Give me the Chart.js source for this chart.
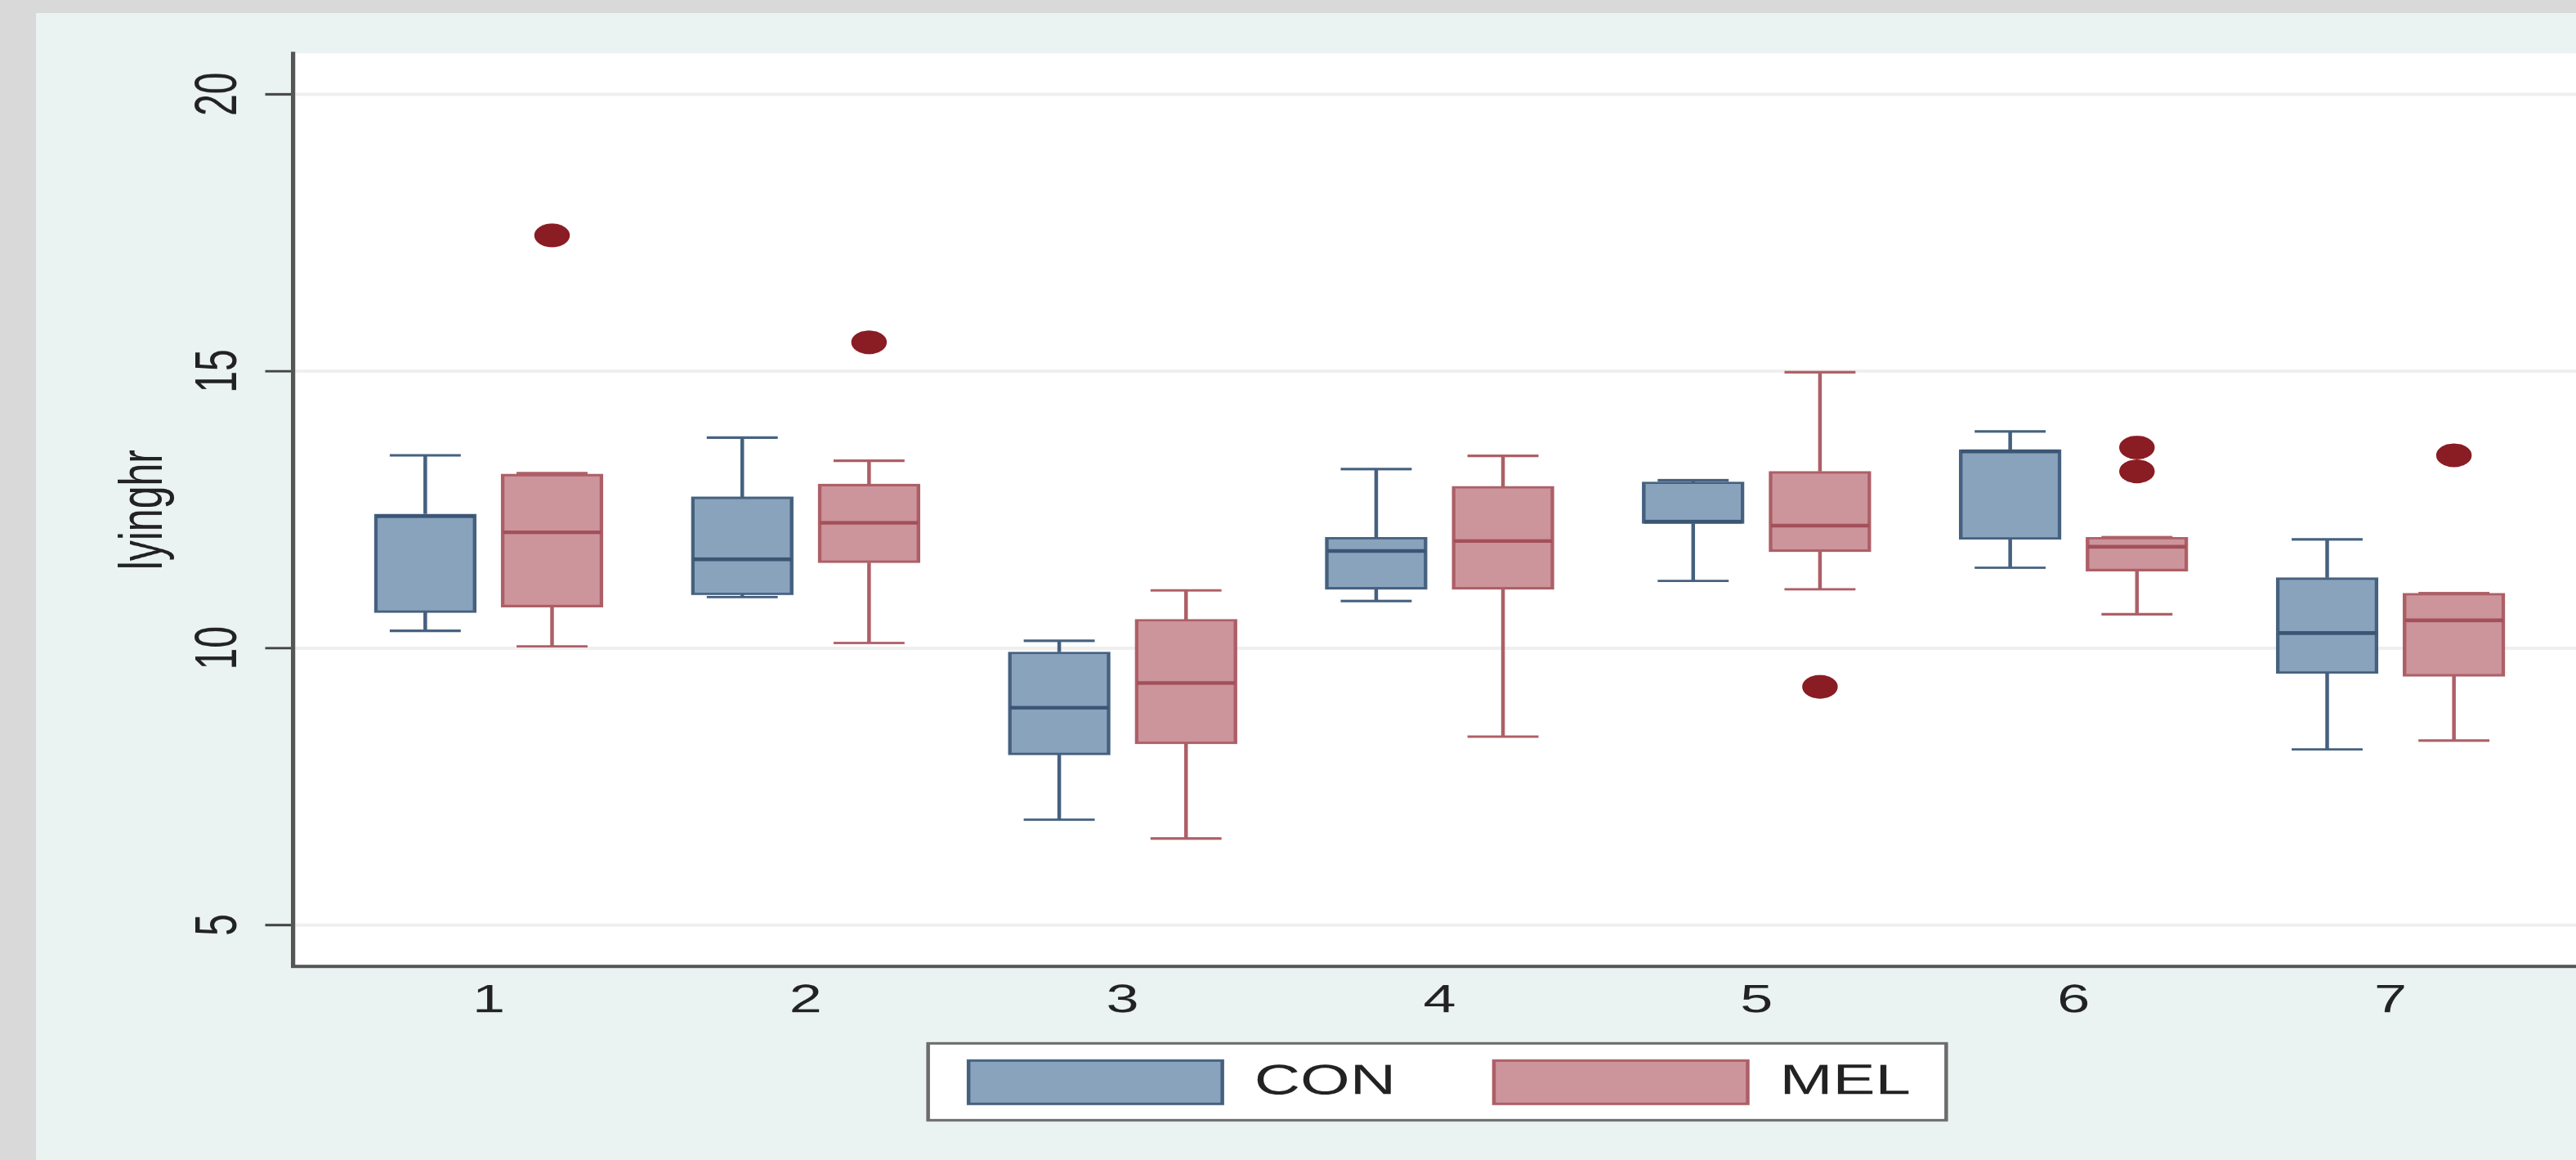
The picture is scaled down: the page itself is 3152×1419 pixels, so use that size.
<!DOCTYPE html>
<html>
<head>
<meta charset="utf-8">
<script src="https://cdn.jsdelivr.net/npm/chart.js@4.4.1/dist/chart.umd.min.js"></script>
<style>
  html, body { margin: 0; padding: 0; }
  body { width: 3152px; height: 1419px; background: #d9d9d9; overflow: hidden; position: relative; }
  #panel { position: absolute; left: 44px; top: 16px; right: 0; bottom: 0; background: #eaf2f2; overflow: hidden; }
  /* the original graph is stretched sideways, so the canvas is too */
  #wrap { position: absolute; left: 0; top: 0; width: 2290px; height: 1403px; transform: scaleX(1.5); transform-origin: 0 0; }
</style>
</head>
<body>
<div id="panel">
  <div id="wrap"><canvas id="boxChart"></canvas></div>
</div>
<script>
// values (lyinghr by period)
const groups = [1, 2, 3, 4, 5, 6, 7];
const seriesNames = ['CON', 'MEL'];
const yTicks = [5, 10, 15, 20];

const conMin = [10.31, 10.92, 6.90, 10.85, 11.21, 11.45, 8.17];
const conQ1  = [10.64, 10.96, 8.07, 11.06, 12.25, 11.96, 9.54];
const conMed = [12.38, 11.60, 8.92, 11.75, 12.28, 13.55, 10.27];
const conQ3  = [12.42, 12.73, 9.93, 12.00, 13.00, 13.58, 11.27];
const conMax = [13.48, 13.80, 10.13, 13.23, 13.03, 13.91, 11.96];

const melMin = [10.03, 10.09, 6.56, 8.40, 11.06, 10.61, 8.33];
const melQ1  = [10.74, 11.54, 8.27, 11.06, 11.74, 11.39, 9.49];
const melMed = [12.09, 12.26, 9.37, 11.93, 12.21, 11.83, 10.50];
const melQ3  = [13.14, 12.96, 10.52, 12.92, 13.19, 12.00, 10.99];
const melMax = [13.16, 13.38, 11.04, 13.47, 14.98, 12.00, 10.99];
const melOut = [[17.45], [15.52], [], [], [9.30], [13.62, 13.19], [13.48]];

const conFill = '#8aa3bd', conLine = '#45617f';
const melFill = '#cc959b', melLine = '#ad5f67';
const dotColor = '#8a1c24';

const shift = 0.2, capHalf = 0.112, medHalf = 0.155;

function boxes(off, q1, q3) {
  return groups.map((g, i) => ({ x: g + off, y: [q1[i], q3[i]] }));
}
function whiskers(off, mn, q1, q3, mx) {
  const pts = [];
  groups.forEach((g, i) => {
    const x = g + off;
    pts.push({ x, y: q3[i] }, { x, y: mx[i] }, { x, y: null });
    pts.push({ x: x - capHalf, y: mx[i] }, { x: x + capHalf, y: mx[i] }, { x, y: null });
    pts.push({ x, y: q1[i] }, { x, y: mn[i] }, { x, y: null });
    pts.push({ x: x - capHalf, y: mn[i] }, { x: x + capHalf, y: mn[i] }, { x, y: null });
  });
  return pts;
}
function medians(off, med) {
  const pts = [];
  groups.forEach((g, i) => {
    pts.push({ x: g + off - medHalf, y: med[i] }, { x: g + off + medHalf, y: med[i] }, { x: g, y: null });
  });
  return pts;
}
function outliers(off, outs) {
  const pts = [];
  groups.forEach((g, i) => outs[i].forEach(v => pts.push({ x: g + off, y: v })));
  return pts;
}

const lineSet = (label, data, color, width, order) => ({
  type: 'line', label, data, borderColor: color, borderWidth: width,
  pointRadius: 0, fill: false, spanGaps: false, tension: 0, order
});

const statabg = {
  id: 'statabg',
  beforeDraw(chart) {
    const { ctx, chartArea: a } = chart;
    ctx.save();
    ctx.fillStyle = '#ffffff';
    ctx.fillRect(a.left, a.top, a.right - a.left, a.bottom - a.top);
    const hb = chart.legend && chart.legend.legendHitBoxes;
    if (hb && hb.length) {
      const last = hb[hb.length - 1];
      const l = hb[0].left - 33, r = last.left + last.width + 29;
      const t = hb[0].top - 21, b = hb[0].top + hb[0].height + 20;
      ctx.fillRect(l, t, r - l, b - t);
      ctx.strokeStyle = '#6b6b6b';
      ctx.lineWidth = 3;
      ctx.strokeRect(l, t, r - l, b - t);
    }
    ctx.restore();
  }
};

Chart.defaults.font.family = "'Liberation Sans', Arial, sans-serif";
Chart.defaults.color = '#222';

const baseLabels = Chart.defaults.plugins.legend.labels.generateLabels;

new Chart(document.getElementById('boxChart'), {
  type: 'bar',
  data: {
    datasets: [
      { label: seriesNames[0], data: boxes(-shift, conQ1, conQ3), backgroundColor: conFill, borderColor: conLine,
        borderWidth: 3, borderSkipped: false, barThickness: 83, grouped: false, order: 2 },
      { label: seriesNames[1], data: boxes(shift, melQ1, melQ3), backgroundColor: melFill, borderColor: melLine,
        borderWidth: 3, borderSkipped: false, barThickness: 83, grouped: false, order: 2 },
      lineSet('CON whiskers', whiskers(-shift, conMin, conQ1, conQ3, conMax), conLine, 3, 3),
      lineSet('MEL whiskers', whiskers(shift, melMin, melQ1, melQ3, melMax), melLine, 3, 3),
      lineSet('CON median', medians(-shift, conMed), '#3b5674', 4.5, 1),
      lineSet('MEL median', medians(shift, melMed), '#a3505a', 4.5, 1),
      { type: 'scatter', label: 'MEL outside', data: outliers(shift, melOut), pointRadius: 14,
        backgroundColor: dotColor, borderColor: dotColor, borderWidth: 1, order: 0 }
    ]
  },
  options: {
    responsive: true,
    maintainAspectRatio: false,
    devicePixelRatio: 1.5,
    animation: false,
    layout: { padding: { top: 49, left: 0, right: 0, bottom: 59 } },
    plugins: {
      tooltip: { enabled: false },
      legend: {
        position: 'bottom',
        labels: {
          filter: item => item.datasetIndex < 2,
          // a little extra room after the first key, like the Stata legend
          generateLabels: chart => baseLabels(chart).map(l => l.datasetIndex === 0 ? { ...l, text: l.text + '\u2002' } : l),
          boxWidth: 207, boxHeight: 53, padding: 54,
          font: { size: 52 }, color: '#222'
        }
      }
    },
    scales: {
      x: {
        type: 'linear', min: 0.384, max: 7.616, offset: false,
        afterBuildTicks: s => { s.ticks = groups.map(v => ({ value: v })); },
        afterFit: s => { s.height = 61; },
        grid: { display: false, drawTicks: false },
        border: { display: true, color: '#555', width: 4 },
        ticks: { font: { size: 48, lineHeight: 1 }, color: '#222', padding: 19, autoSkip: false, maxRotation: 0 }
      },
      y: {
        type: 'linear', min: 4.25, max: 20.74, beginAtZero: false,
        afterBuildTicks: s => { s.ticks = yTicks.map(v => ({ value: v })); },
        afterFit: s => { s.width = 210; },
        grid: { color: '#efefef', lineWidth: 4, drawTicks: true, tickLength: 23, tickColor: '#444', tickWidth: 3 },
        border: { display: true, color: '#555', width: 3.5 },
        ticks: { font: { size: 48 }, color: '#222', minRotation: 90, maxRotation: 90, crossAlign: 'center', padding: 10, autoSkip: false },
        title: { display: true, text: 'lyinghr', font: { size: 50 }, color: '#222', padding: { top: 59, bottom: 0 } }
      },
      yR: {
        position: 'right', display: true, min: 0, max: 1,
        afterFit: s => { s.width = 210; },
        ticks: { display: false },
        grid: { display: false, drawTicks: false },
        border: { display: false }
      }
    }
  },
  plugins: [statabg]
});
</script>
</body>
</html>
